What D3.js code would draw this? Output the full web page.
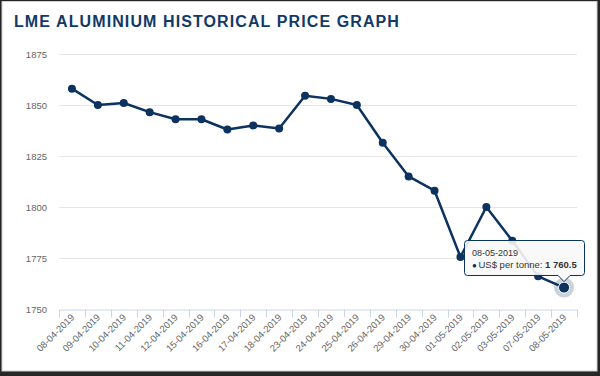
<!DOCTYPE html>
<html lang="en">
<head>
<meta charset="utf-8" />
<title>LME Aluminium historical price graph</title>
<script src="https://d3js.org/d3.v7.min.js"></script>
<style>
	body { margin: 0; background: #fff; }
	svg { display: block; font-family: "Liberation Sans", Arial, sans-serif; }
	.grid line { stroke: #e6e6e6; }
	.ylab { fill: #666; font-size: 9.5px; }
	.xlab { fill: #666; font-size: 9.5px; }
</style>
</head>
<body>
<svg width="600" height="376"></svg>
<script>

//	data
var dates = ["08-04-2019", "09-04-2019", "10-04-2019", "11-04-2019", "12-04-2019",
	"15-04-2019", "16-04-2019", "17-04-2019", "18-04-2019", "23-04-2019",
	"24-04-2019", "25-04-2019", "26-04-2019", "29-04-2019", "30-04-2019",
	"01-05-2019", "02-05-2019", "03-05-2019", "07-05-2019", "08-05-2019"];
var prices = [1858, 1850, 1851, 1846.5, 1843, 1843, 1838, 1840, 1838.5, 1854.5,
	1853, 1850, 1831.5, 1815, 1808, 1775.5, 1800, 1783.5, 1766, 1760.5];
var yTicks = [1750, 1775, 1800, 1825, 1850, 1875];
var seriesName = "US$ per tonne";
var hovered = 19;

var svg = d3.select("svg"),
	width = +svg.attr("width"),
	height = +svg.attr("height"),
	navy = "#0c3260";

//	frame with dark edge (heavier at right / bottom)
svg.append("rect").attr("width", width).attr("height", height).attr("fill", "#262626");
svg.append("rect").attr("x", 2).attr("y", 1.5).attr("width", 595).attr("height", 369.5)
	.attr("fill", "#fff").attr("stroke", "#cfcfcf").attr("stroke-width", 1);

svg.append("text")
	.attr("x", 14).attr("y", 27)
	.attr("fill", "#123a66")
	.attr("font-size", "16px")
	.attr("font-weight", "bold")
	.attr("letter-spacing", "1.1px")
	.text("LME ALUMINIUM HISTORICAL PRICE GRAPH");

var x = d3.scaleBand().domain(dates).range([59, 577]).padding(0);
var y = d3.scaleLinear().domain([1750, 1875]).range([309, 54]);

//	grid + y labels
var grid = svg.append("g").attr("class", "grid");
grid.selectAll("line").data(yTicks.filter(function(d) { return d > 1750; }))
	.enter().append("line")
	.attr("x1", 59).attr("x2", 577)
	.attr("y1", function(d) { return y(d) + 0.5; })
	.attr("y2", function(d) { return y(d) + 0.5; });

svg.append("g").selectAll("text").data(yTicks)
	.enter().append("text")
	.attr("class", "ylab")
	.attr("x", 47).attr("y", function(d) { return y(d) + 3.5; })
	.attr("text-anchor", "end")
	.text(function(d) { return d; });

//	x axis
var xAxis = d3.axisBottom(x).tickSize(0).tickFormat("");
var gx = svg.append("g").attr("transform", "translate(0," + (y(1750) + 0.5) + ")").call(xAxis);
gx.select(".domain").attr("stroke", "#ccd6eb");
var bounds = dates.map(function(d) { return x(d); }).concat([x.range()[1]]);
gx.selectAll(".btick").data(bounds).enter().append("line")
	.attr("x1", function(d) { return Math.round(d) + 0.5; })
	.attr("x2", function(d) { return Math.round(d) + 0.5; })
	.attr("y1", 0).attr("y2", 8)
	.attr("stroke", "#ccd6eb");

svg.append("g").selectAll("text").data(dates)
	.enter().append("text")
	.attr("class", "xlab")
	.attr("text-anchor", "end")
	.attr("transform", function(d) {
		return "translate(" + (x(d) + x.bandwidth() / 2 + 3) + "," + 318 + ") rotate(-45)";
	})
	.text(function(d) { return d; });

//	series
var cx = function(i) { return x(dates[i]) + x.bandwidth() / 2; };
var line = d3.line()
	.x(function(d, i) { return cx(i); })
	.y(function(d) { return y(d); });

svg.append("path").datum(prices)
	.attr("d", line)
	.attr("fill", "none")
	.attr("stroke", navy)
	.attr("stroke-width", 2.5)
	.attr("stroke-linejoin", "round");

svg.append("g").selectAll("circle").data(prices)
	.enter().append("circle")
	.attr("cx", function(d, i) { return cx(i); })
	.attr("cy", function(d) { return y(d); })
	.attr("r", 4)
	.attr("fill", navy);

//	hover state on last point
var hx = cx(hovered), hy = y(prices[hovered]);
svg.append("circle").attr("cx", hx).attr("cy", hy).attr("r", 10)
	.attr("fill", navy).attr("fill-opacity", 0.22);
svg.append("circle").attr("cx", hx).attr("cy", hy).attr("r", 5.5)
	.attr("fill", navy).attr("stroke", "#fff").attr("stroke-width", 1);

//	tooltip callout
var tx = 464.5, ty = 240.5, tw = 120, th = 35, r = 3,
	ax = hx, ay = hy - 6;
var tip = svg.append("g");
var p = "M" + (tx + r) + "," + ty +
	"H" + (tx + tw - r) + "Q" + (tx + tw) + "," + ty + " " + (tx + tw) + "," + (ty + r) +
	"V" + (ty + th - r) + "Q" + (tx + tw) + "," + (ty + th) + " " + (tx + tw - r) + "," + (ty + th) +
	"H" + (ax + 6) + "L" + ax + "," + ay + "L" + (ax - 6) + "," + (ty + th) +
	"H" + (tx + r) + "Q" + tx + "," + (ty + th) + " " + tx + "," + (ty + th - r) +
	"V" + (ty + r) + "Q" + tx + "," + ty + " " + (tx + r) + "," + ty + "Z";
tip.append("path").attr("d", p)
	.attr("fill", "rgba(248,248,248,0.9)")
	.attr("stroke", navy).attr("stroke-width", 1);
tip.append("text").attr("x", tx + 7.5).attr("y", ty + 15)
	.attr("font-size", "9px").attr("fill", "#333").text(dates[hovered]);
tip.append("text").attr("x", tx + 7.5).attr("y", ty + 27)
	.attr("font-size", "8px").attr("fill", navy).text("\u25CF");
var t2 = tip.append("text").attr("x", tx + 14).attr("y", ty + 27)
	.attr("font-size", "9.5px").attr("fill", "#333");
t2.append("tspan").text(seriesName + ": ");
t2.append("tspan").attr("font-weight", "bold")
	.text(d3.format(",.1f")(prices[hovered]).replace(",", " "));

</script>
</body>
</html>
